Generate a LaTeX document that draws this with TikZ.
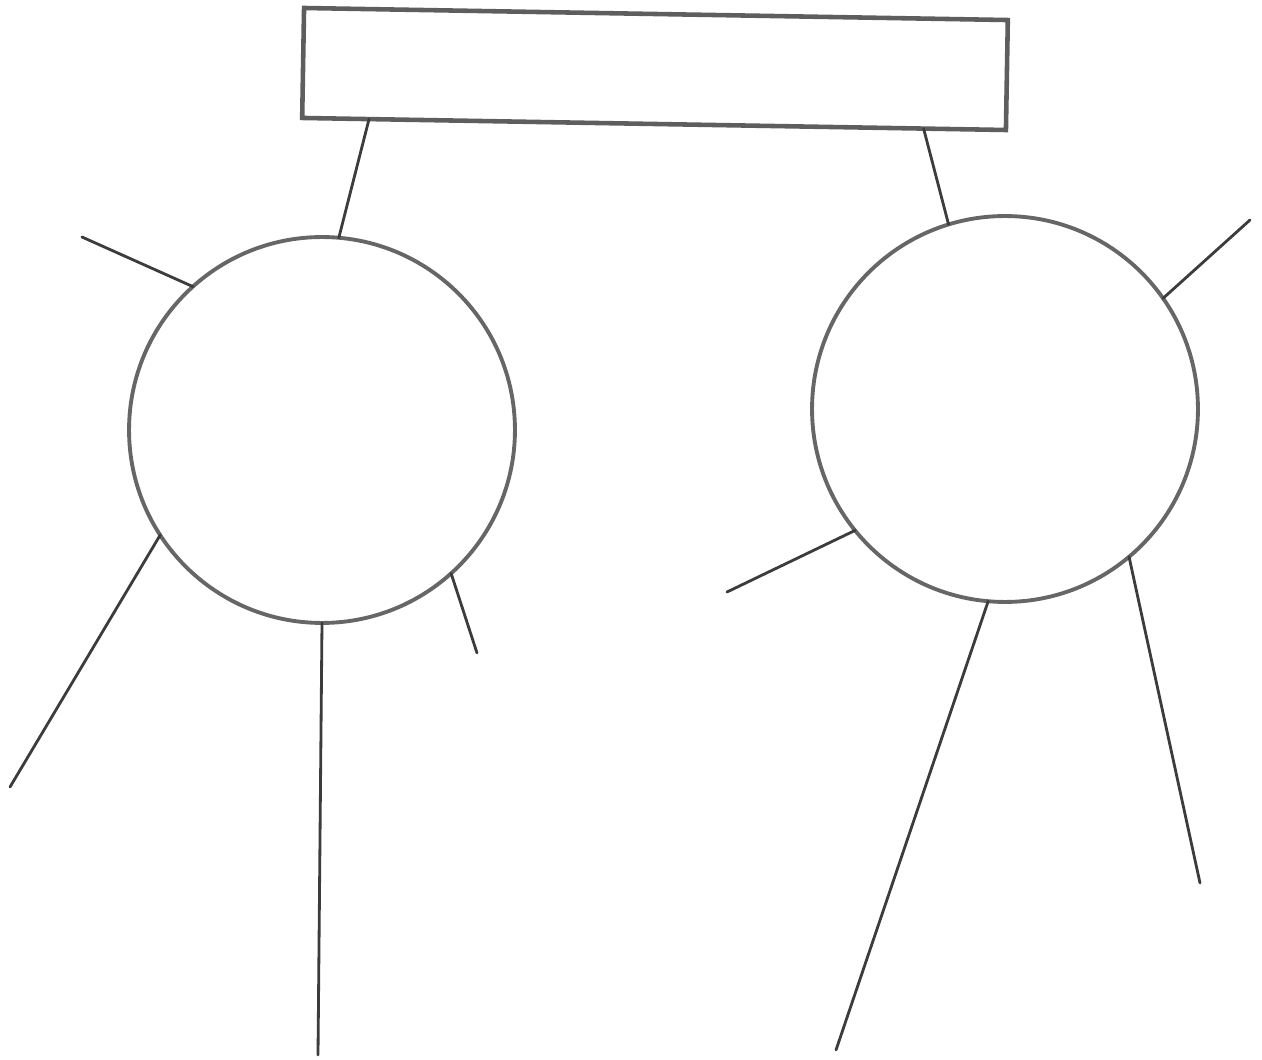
\documentclass[tikz,border=0pt]{standalone}
\usetikzlibrary{calc}
\definecolor{boxgray}{HTML}{5E5E5E}
\definecolor{ringgray}{HTML}{666666}
\definecolor{linegray}{HTML}{3C3C3C}
\begin{document}
\begin{tikzpicture}[x=0.02cm,y=-0.02cm,
  topbox/.style={draw=boxgray,line width=2.6pt,rectangle,minimum width=14.08cm,minimum height=2.2cm,inner sep=0pt,outer sep=0pt,rotate=-0.98},
  ring/.style={draw=ringgray,line width=2.2pt,circle,minimum size=7.72cm,inner sep=0pt,outer sep=0pt},
  spoke/.style={draw=linegray,line width=1.6pt,line cap=round}]
\useasboundingbox (0,0) rectangle (1262,1060);
\node[topbox] (box) at (655,69) {};
\node[ring] (cL) at (322,430) {};
\node[ring] (cR) at (1005,409) {};
% free ends
\coordinate (l1) at (82,237);
\coordinate (l2) at (10,787);
\coordinate (l3) at (318,1055);
\coordinate (l4) at (477,653);
\coordinate (r1) at (1250,220);
\coordinate (r2) at (727,592);
\coordinate (r3) at (836,1050);
\coordinate (r4) at (1200,883);
% connectors to box
\draw[spoke] ($(box.south west)!0.095!(box.south east)$) -- (cL.85.2);
\draw[spoke] ($(box.south west)!0.883!(box.south east)$) -- (cR.107.3);
% left circle spokes
\draw[spoke] (cL.132.5) -- (l1);
\draw[spoke] (cL.213.9) -- (l2);
\draw[spoke] (cL.270.6) -- (l3);
\draw[spoke] (cL.312.1) -- (l4);
% right circle spokes
\draw[spoke] (cR.35) -- (r1);
\draw[spoke] (cR.219.2) -- (r2);
\draw[spoke] (cR.265.5) -- (r3);
\draw[spoke] (cR.310.6) -- (r4);
\end{tikzpicture}
\end{document}
